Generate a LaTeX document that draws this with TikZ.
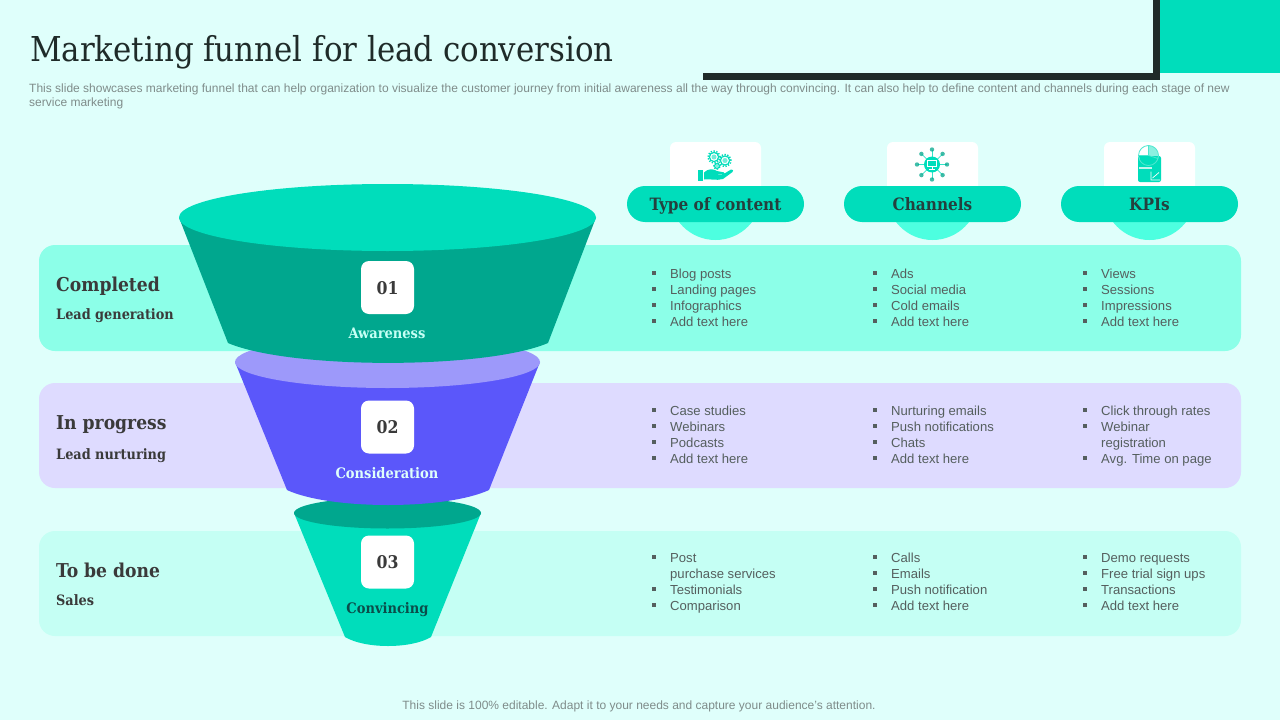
\documentclass[tikz,border=0pt]{standalone}
\usepackage{fontspec}
\setmainfont{Liberation Sans}
\newfontfamily\serif{DejaVu Serif Condensed}
\newfontfamily\titlefont{DejaVu Serif Condensed}
\definecolor{bgc}{HTML}{DFFFFB}
\definecolor{teal}{HTML}{00DDBB}
\definecolor{tealdk}{HTML}{00A78E}
\definecolor{barc}{HTML}{1F2B29}
\definecolor{bandA}{HTML}{8CFFE8}
\definecolor{bandB}{HTML}{DEDBFF}
\definecolor{bandC}{HTML}{C5FFF4}
\definecolor{violet}{HTML}{5B57FA}
\definecolor{violetlt}{HTML}{9D99FA}
\definecolor{halo}{HTML}{4DFFE0}
\definecolor{inkd}{HTML}{24403E}
\definecolor{bodyt}{HTML}{555F5E}
\definecolor{greyt}{HTML}{7F8C8A}
\definecolor{numt}{HTML}{3A3A3A}
\definecolor{convt}{HTML}{0B4D4A}
\tikzset{
  x=1pt,y=-1pt,
  band/.style={fill=#1,draw=none,rounded corners=16pt},
  iconbox/.style={fill=white,draw=none,rounded corners=6pt},
  evenbox/.style={text height=0.75*#1+4.4pt,text depth=0.25*#1},
  pill/.style={fill=teal,draw=none,rounded corners=18pt,minimum width=177pt,minimum height=36pt,inner sep=0pt,
     font=\serif\bfseries\fontsize{17}{17}\selectfont,text=inkd,evenbox=17pt},
  numbox/.style={fill=white,draw=none,rounded corners=8pt,minimum width=53pt,minimum height=53pt,inner sep=0pt,
     font=\serif\bfseries\fontsize{17.5}{17.5}\selectfont,text=numt,evenbox=17.5pt},
  stage/.style={inner sep=0pt,font=\serif\bfseries\fontsize{14.5}{14.5}\selectfont,evenbox=14.5pt},
  rowhead/.style={anchor=west,inner sep=0pt,font=\serif\bfseries\fontsize{19.1}{19.1}\selectfont,text=numt,evenbox=19.1pt},
  rowsub/.style={anchor=west,inner sep=0pt,font=\serif\bfseries\fontsize{14.3}{14.3}\selectfont,text=numt,evenbox=14.3pt},
  itemtxt/.style={anchor=west,inner sep=0pt,font=\fontsize{13.1}{13.1}\selectfont,text=bodyt,evenbox=13.1pt},
  bul/.style={fill=bodyt,draw=none,inner sep=0pt,minimum size=3.6pt},
  small/.style={anchor=base west,inner sep=0pt,font=\fontsize{12}{12}\selectfont,text=greyt},
  ico/.style={fill=teal,draw=none},
}
\newcommand\bitem[4]{%
  \node[bul] (b#1) at (#2-16,#3) {};
  \node[itemtxt] (t#1) at (#2,#3) {#4};}
\newcommand\bcont[4]{\node[itemtxt] (t#1) at (#2,#3) {#4};}
\begin{document}
\begin{tikzpicture}
\useasboundingbox (0,0) rectangle (1280,720);
\fill[bgc] (0,0) rectangle (1280,720);
% top right decoration
\fill[barc] (703,73) rectangle (1160,80);
\fill[barc] (1153,0) rectangle (1160,80);
\fill[teal] (1160,0) rectangle (1280,73);
% title
\node[anchor=base west,inner sep=0pt,font=\titlefont\fontsize{34.3}{34.3}\selectfont,text=barc] (title) at (30,61) {Marketing funnel for lead conversion};
\node[small] (sub1) at (29,92) {This slide showcases marketing funnel that can help organization to visualize the customer journey from initial awareness all the way through convincing. It can also help to define content and channels during each stage of new};
\node[small] (sub2) at (29,106.5) {service marketing};
\node[small,anchor=base,text=greyt] (foot) at (639,709.5) {This slide is 100\% editable. Adapt it to your needs and capture your audience's attention.};
% bands
\path[band=bandA] (39,245) rectangle (1241,351);
\path[band=bandB] (39,383) rectangle (1241,488);
\path[band=bandC] (39,531) rectangle (1241,636);
% header halos, boxes
\foreach \c in {715.5,932.5,1149.5}{
  \fill[halo] (\c,194) circle[radius=46pt];
  \path[iconbox] (\c-45.5,142) rectangle (\c+45.5,200);
}
\node[pill] (p1) at (715.5,204) {Type of content};
\node[pill] (p2) at (932.5,204) {Channels};
\node[pill] (p3) at (1149.5,204) {KPIs};
% icon 1: gears and hand
\foreach \gx/\gy/\gr in {714/157/4.6,725/160.5/4.6,717/166/2.4}{
  \draw[teal,line width=1.2pt] (\gx,\gy) circle[radius=\gr pt];
  \fill[teal,opacity=.55] (\gx,\gy) circle[radius=\gr*0.55 pt];
  \draw[teal,line width=1.5pt,dash pattern=on 1.3pt off 1.5pt] (\gx,\gy) circle[radius=\gr*1.28 pt];
}
\fill[ico] (698,170) rectangle (703,180.5);
\fill[ico] (704,172.5) .. controls (708,168.5) and (713,168.5) .. (717,171)
  -- (722,172) .. controls (725,172) and (725,174) .. (722,174.5) -- (714,175)
  -- (722,175) -- (731,169.5) .. controls (733,169) and (734,171) .. (732.5,172)
  -- (723,179) .. controls (716,181) and (710,178.5) .. (704,179.5) -- cycle;
% icon 2: network
\foreach \ang in {0,45,...,315}{
  \draw[teal!80!white,line width=.7pt] (932,164.5) -- ++(\ang:14.5);
  \fill[teal!75!black,opacity=.75] (932,164.5) ++(\ang:15) circle[radius=2.2pt];
}
\fill[teal] (932,164.5) circle[radius=8pt];
\draw[white,line width=.8pt] (927.5,160.5) rectangle (936.5,166.5);
\draw[white,line width=.8pt] (932,166.5) -- (932,169) (929,169) -- (935,169);
% icon 3: KPI board
\path[fill=teal,rounded corners=2pt] (1138,156) rectangle (1161,182);
\fill[white] (1148.5,155.5) circle[radius=10pt];
\fill[teal!45!white] (1148.5,155.5) -- (1148.5,145.5) .. controls (1154,145.5) and (1160,151) .. (1158,158.5) -- cycle;
\fill[teal] (1139,156) .. controls (1139,168.5) and (1158,168.5) .. (1158,156) -- cycle;
\draw[teal!70!white,line width=.8pt] (1148.5,155.5) circle[radius=10pt];
\draw[teal!70!white,line width=.8pt] (1148.5,145.5) -- (1148.5,155.5) -- (1138.5,155.5) (1148.5,155.5) -- (1158,158.5);
\draw[white,opacity=.75,line width=1.6pt] (1139,168) -- (1152,168);
\draw[white,line width=.7pt] (1151,171.5) -- (1151,180) -- (1160,180) (1152.5,178) -- (1159,172.5);
% funnel 3
\fill[teal] (294,513) -- (345,637) .. controls (365,649) and (411,649) .. (431,637) -- (481,513) -- cycle;
\fill[tealdk] (387.5,513) ellipse[x radius=93.5pt,y radius=15.5pt];
% funnel 2
\fill[violet] (235,362) -- (287,490) .. controls (330,510) and (446,510) .. (489,490) -- (540,362) -- cycle;
\fill[violetlt] (387.5,362) ellipse[x radius=152.5pt,y radius=26pt];
% funnel 1
\fill[tealdk] (179,217.5) -- (228,343) .. controls (290,369.5) and (486,369.5) .. (548,343) -- (596,217.5) -- cycle;
\fill[teal] (387.5,217.5) ellipse[x radius=208.5pt,y radius=33.5pt];
% number boxes
\node[numbox] (n1) at (387.5,287.5) {01};
\node[numbox] (n2) at (387.5,427) {02};
\node[numbox] (n3) at (387.5,562) {03};
\node[stage,text=bandC] (s1) at (387,333) {Awareness};
\node[stage,text=bgc] (s2) at (387,473) {Consideration};
\node[stage,text=convt] (s3) at (387.5,608) {Convincing};
% row heads
\node[rowhead] (h1) at (56,285) {Completed};
\node[rowsub] (r1) at (56,314) {Lead generation};
\node[rowhead] (h2) at (56,423) {In progress};
\node[rowsub] (r2) at (56,454) {Lead nurturing};
\node[rowhead] (h3) at (56,571) {To be done};
\node[rowsub] (r3) at (56,600) {Sales};
% lists row 1
\bitem{a1}{670}{273}{Blog posts}
\bitem{a2}{670}{289}{Landing pages}
\bitem{a3}{670}{305}{Infographics}
\bitem{a4}{670}{321}{Add text here}
\bitem{b1}{891}{273}{Ads}
\bitem{b2}{891}{289}{Social media}
\bitem{b3}{891}{305}{Cold emails}
\bitem{b4}{891}{321}{Add text here}
\bitem{c1}{1101}{273}{Views}
\bitem{c2}{1101}{289}{Sessions}
\bitem{c3}{1101}{305}{Impressions}
\bitem{c4}{1101}{321}{Add text here}
% row 2
\bitem{d1}{670}{410}{Case studies}
\bitem{d2}{670}{426}{Webinars}
\bitem{d3}{670}{442}{Podcasts}
\bitem{d4}{670}{458}{Add text here}
\bitem{e1}{891}{410}{Nurturing emails}
\bitem{e2}{891}{426}{Push notifications}
\bitem{e3}{891}{442}{Chats}
\bitem{e4}{891}{458}{Add text here}
\bitem{f1}{1101}{410}{Click through rates}
\bitem{f2}{1101}{426}{Webinar}
\bcont{f3}{1101}{442}{registration}
\bitem{f4}{1101}{458}{Avg. Time on page}
% row 3
\bitem{g1}{670}{557}{Post}
\bcont{g2}{670}{573}{purchase services}
\bitem{g3}{670}{589}{Testimonials}
\bitem{g4}{670}{605}{Comparison}
\bitem{h1}{891}{557}{Calls}
\bitem{h2}{891}{573}{Emails}
\bitem{h3}{891}{589}{Push notification}
\bitem{h4}{891}{605}{Add text here}
\bitem{i1}{1101}{557}{Demo requests}
\bitem{i2}{1101}{573}{Free trial sign ups}
\bitem{i3}{1101}{589}{Transactions}
\bitem{i4}{1101}{605}{Add text here}
\end{tikzpicture}
\end{document}
